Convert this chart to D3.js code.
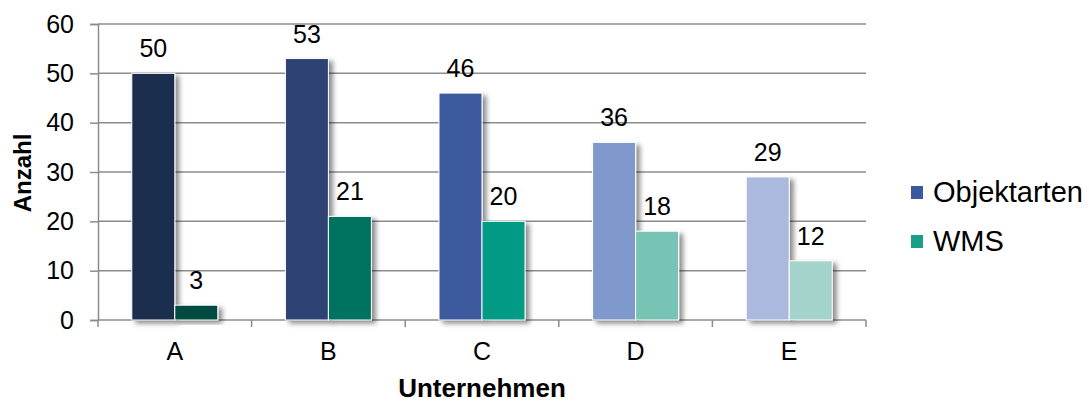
<!DOCTYPE html>
<html>
<head>
<meta charset="utf-8">
<script src="https://cdn.jsdelivr.net/npm/d3@7"></script>
<style>
  html, body { margin: 0; padding: 0; background: #fff; }
  svg { display: block; font-family: Arial, "Liberation Sans", sans-serif; }
</style>
</head>
<body>
<svg id="chart" width="1089" height="403"></svg>
<script>
// Companies and counts per series
const companies = ["A", "B", "C", "D", "E"];
const seriesNames = ["Objektarten", "WMS"];
const objektarten = [50, 53, 46, 36, 29];
const wms = [3, 21, 20, 18, 12];
const yTicks = [0, 10, 20, 30, 40, 50, 60];

// Each company gets its own shade of the series hue
const objektColors = ["#1f2d4e", "#2f4373", "#3e5a9e", "#8099cc", "#abb9df"];
const wmsColors = ["#054c40", "#037361", "#019a85", "#78c4b4", "#a3d3ca"];
const legendColors = ["#3c589e", "#1a9e88"];

const svg = d3.select("#chart");
const plot = { left: 98, right: 866, top: 24, bottom: 320 };

const x = d3.scaleBand().domain(companies).range([plot.left, plot.right]).paddingInner(0).paddingOuter(0);
const inner = d3.scaleBand().domain(seriesNames).range([0, x.bandwidth()]).paddingInner(0.0).paddingOuter(0.786);
const y = d3.scaleLinear().domain([0, 60]).range([plot.bottom, plot.top]);

// Soft drop shadow under the bars
const defs = svg.append("defs");
const f = defs.append("filter").attr("id", "shadow").attr("x", "-20%").attr("y", "-20%").attr("width", "150%").attr("height", "150%");
f.append("feDropShadow").attr("dx", 4).attr("dy", 3).attr("stdDeviation", 2.5)
  .attr("flood-color", "#000").attr("flood-opacity", 0.45);

const gridColor = "#8c8c8c";

// Horizontal gridlines
svg.append("g").selectAll("line").data(yTicks.slice(1)).join("line")
  .attr("x1", plot.left).attr("x2", plot.right)
  .attr("y1", d => y(d)).attr("y2", d => y(d))
  .attr("stroke", gridColor).attr("stroke-width", 1.5);

// Y axis
const yAxis = svg.append("g").attr("transform", `translate(${plot.left},0)`)
  .call(d3.axisLeft(y).tickValues(yTicks).tickSize(8).tickPadding(16));
yAxis.select(".domain").attr("stroke", gridColor).attr("stroke-width", 1.5);
yAxis.selectAll(".tick line").attr("stroke", gridColor).attr("stroke-width", 1.5);
yAxis.selectAll(".tick text").attr("font-size", 25).attr("fill", "#000")
  .attr("font-family", "Arial, 'Liberation Sans', sans-serif");

// X axis with ticks between the companies
const xAxisG = svg.append("g");
xAxisG.append("line").attr("x1", plot.left).attr("x2", plot.right)
  .attr("y1", plot.bottom).attr("y2", plot.bottom)
  .attr("stroke", gridColor).attr("stroke-width", 1.5);
const boundaries = companies.map(c => x(c)).concat([x(companies[companies.length - 1]) + x.bandwidth()]);
xAxisG.selectAll("line.tk").data(boundaries).join("line").attr("class", "tk")
  .attr("x1", d => d).attr("x2", d => d)
  .attr("y1", plot.bottom).attr("y2", plot.bottom + 7)
  .attr("stroke", gridColor).attr("stroke-width", 1.5);
xAxisG.selectAll("text").data(companies).join("text")
  .attr("x", d => x(d) + x.bandwidth() / 2).attr("y", 360)
  .attr("text-anchor", "middle").attr("font-size", 25).text(d => d);

// Bars
const rows = companies.map((c, i) => ({
  company: c,
  values: [
    { series: seriesNames[0], value: objektarten[i], color: objektColors[i] },
    { series: seriesNames[1], value: wms[i], color: wmsColors[i] }
  ]
}));

const groups = svg.append("g").selectAll("g").data(rows).join("g")
  .attr("transform", d => `translate(${x(d.company)},0)`);

groups.selectAll("rect").data(d => d.values).join("rect")
  .attr("x", d => inner(d.series))
  .attr("y", d => y(d.value))
  .attr("width", inner.bandwidth())
  .attr("height", d => y(0) - y(d.value))
  .attr("fill", d => d.color)
  .attr("stroke", "#fff").attr("stroke-width", 1)
  .attr("filter", "url(#shadow)");

groups.selectAll("text").data(d => d.values).join("text")
  .attr("x", d => inner(d.series) + inner.bandwidth() / 2)
  .attr("y", d => y(d.value) - 16)
  .attr("text-anchor", "middle").attr("font-size", 25).attr("fill", "#000")
  .text(d => d.value);

// Axis titles
svg.append("text").attr("transform", "translate(31,173) rotate(-90)")
  .attr("text-anchor", "middle").attr("font-size", 24).attr("font-weight", "bold").text("Anzahl");
svg.append("text").attr("x", 482).attr("y", 397)
  .attr("text-anchor", "middle").attr("font-size", 26).attr("font-weight", "bold").text("Unternehmen");

// Legend
const legend = svg.append("g").selectAll("g").data(seriesNames).join("g")
  .attr("transform", (d, i) => `translate(911,${186 + i * 49})`);
legend.append("rect").attr("width", 12).attr("height", 13)
  .attr("fill", (d, i) => legendColors[i]);
legend.append("text").attr("x", 22).attr("y", 15.5).attr("font-size", 29).text(d => d);
</script>
</body>
</html>
